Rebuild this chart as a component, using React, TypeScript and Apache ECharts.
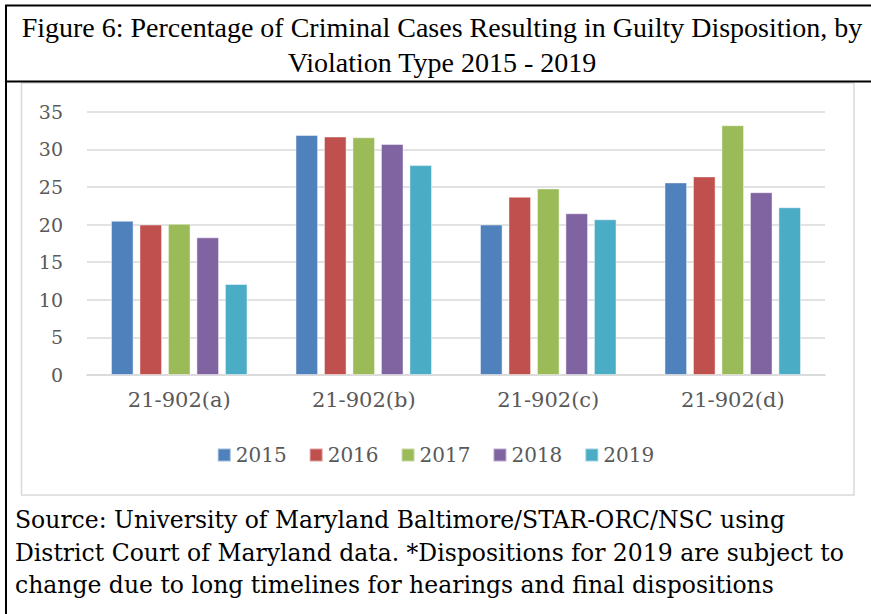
import React, { useEffect, useRef } from "react";
import * as echarts from "echarts";

const categories = ["21-902(a)", "21-902(b)", "21-902(c)", "21-902(d)"];
const years = ["2015", "2016", "2017", "2018", "2019"];
const v2015 = [20.5, 31.9, 20.0, 25.6];
const v2016 = [20.0, 31.7, 23.7, 26.4];
const v2017 = [20.1, 31.6, 24.8, 33.2];
const v2018 = [18.3, 30.7, 21.5, 24.3];
const v2019 = [12.1, 27.9, 20.7, 22.3];
const yTicks = { min: 0, max: 35, interval: 5 };
const colors = ["#4F81BD", "#C0504D", "#9BBB59", "#8064A2", "#4BACC6"];
const titleLines = [
  "Figure 6: Percentage of Criminal Cases Resulting in Guilty Disposition, by",
  "Violation Type 2015 - 2019",
];
const sourceLines = [
  "Source: University of Maryland Baltimore/STAR-ORC/NSC using",
  "District Court of Maryland data. *Dispositions for 2019 are subject to",
  "change due to long timelines for hearings and final dispositions",
];

export default function App() {
  const ref = useRef<HTMLDivElement>(null);
  useEffect(() => {
    if (!ref.current) return;
    const chart = echarts.init(ref.current, undefined, { renderer: "svg" });
    const values = [v2015, v2016, v2017, v2018, v2019];
    const serif = "DejaVu Serif";
    chart.setOption({
      animation: false,
      backgroundColor: "#ffffff",
      grid: { left: 87, right: 46, top: 111.7, bottom: 239 },
      legend: {
        data: years,
        bottom: 144,
        left: "center",
        itemWidth: 13,
        itemHeight: 13,
        itemGap: 22,
        icon: "rect",
        textStyle: { fontFamily: serif, fontSize: 20, color: "#595959" },
      },
      xAxis: {
        type: "category",
        data: categories,
        axisTick: { show: false },
        axisLine: { lineStyle: { color: "#d9d9d9", width: 1.5 } },
        axisLabel: { fontFamily: serif, fontSize: 21, color: "#595959", margin: 14 },
      },
      yAxis: {
        type: "value",
        min: yTicks.min,
        max: yTicks.max,
        interval: yTicks.interval,
        axisLine: { show: false },
        axisTick: { show: false },
        splitLine: { lineStyle: { color: "#d9d9d9", width: 1.5 } },
        axisLabel: { fontFamily: serif, fontSize: 19, color: "#595959", margin: 24 },
      },
      series: years.map((y, i) => ({
        name: y,
        type: "bar",
        data: values[i],
        barGap: "26%",
        barCategoryGap: "26%",
        itemStyle: { color: colors[i], borderColor: "rgba(255,255,255,0.45)", borderWidth: 1 },
      })),
      graphic: [
        { type: "rect", shape: { x: 21.5, y: 83, width: 832.5, height: 412 }, style: { fill: "none", stroke: "#d9d9d9", lineWidth: 1.5 }, z: -1 },
        { type: "line", shape: { x1: 6, y1: 5, x2: 6, y2: 614 }, style: { stroke: "#000", lineWidth: 2 } },
        { type: "line", shape: { x1: 5, y1: 5.5, x2: 871, y2: 5.5 }, style: { stroke: "#000", lineWidth: 2 } },
        { type: "line", shape: { x1: 5, y1: 81.5, x2: 871, y2: 81.5 }, style: { stroke: "#000", lineWidth: 2 } },
        ...titleLines.map((t, i) => ({
          type: "text",
          x: 442,
          y: 27 + i * 35,
          style: {
            text: t,
            fontFamily: "Liberation Serif",
            fontSize: 28,
            fill: "#000000",
            textAlign: "center",
            textVerticalAlign: "middle",
          },
        })),
        ...sourceLines.map((t, i) => ({
          type: "text",
          x: 15,
          y: 520 + i * 32.5,
          style: { text: t, fontFamily: serif, fontSize: 23.5, fill: "#000000", textVerticalAlign: "middle" },
        })),
      ],
    });
    return () => chart.dispose();
  }, []);
  return <div ref={ref} style={{ position: "fixed", left: 0, top: 0, width: 871, height: 614 }} />;
}
